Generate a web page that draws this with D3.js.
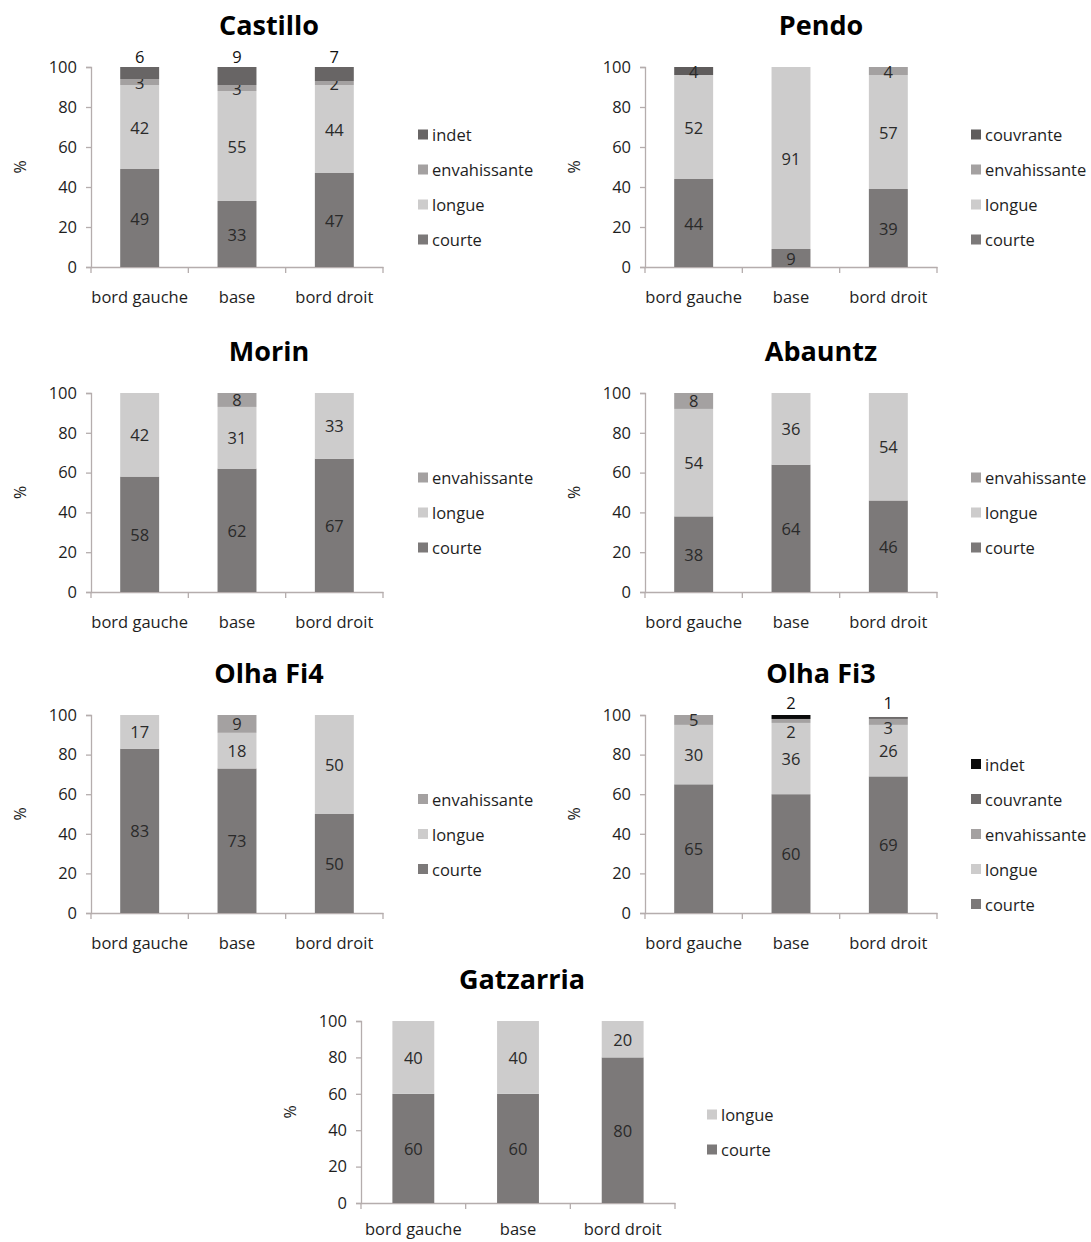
<!DOCTYPE html>
<html><head><meta charset="utf-8">
<script src="https://cdn.jsdelivr.net/npm/d3@7"></script>
<style>
html,body{margin:0;padding:0;background:#fff;}
svg text{font-family:"Open Sans",Lato,sans-serif;}
</style></head>
<body>
<svg id="chart" width="1091" height="1242"></svg>
<script>
// ---------- DATA ----------
const categories = ["bord gauche", "base", "bord droit"];
const yTicks = [0, 20, 40, 60, 80, 100];

const castilloCourte = [49, 33, 47];
const castilloLongue = [42, 55, 44];
const castilloEnvahissante = [3, 3, 2];
const castilloIndet = [6, 9, 7];

const pendoCourte = [44, 9, 39];
const pendoLongue = [52, 91, 57];
const pendoEnvahissante = [0, 0, 4];
const pendoCouvrante = [4, 0, 0];

const morinCourte = [58, 62, 67];
const morinLongue = [42, 31, 33];
const morinEnvahissante = [0, 8, 0];

const abauntzCourte = [38, 64, 46];
const abauntzLongue = [54, 36, 54];
const abauntzEnvahissante = [8, 0, 0];

const olhaFi4Courte = [83, 73, 50];
const olhaFi4Longue = [17, 18, 50];
const olhaFi4Envahissante = [0, 9, 0];

const olhaFi3Courte = [65, 60, 69];
const olhaFi3Longue = [30, 36, 26];
const olhaFi3Envahissante = [5, 2, 3];
const olhaFi3Couvrante = [0, 0, 1];
const olhaFi3Indet = [0, 2, 0];

const gatzarriaCourte = [60, 60, 80];
const gatzarriaLongue = [40, 40, 20];

// ---------- STYLE ----------
const colors = {
  courte: "#7c7979",
  longue: "#cdcccc",
  envahissante: "#a4a1a1",
  couvrante: "#5f5c5c",
  indet: "#686565"
};

const panels = [
  {title: "Castillo", left: 91, top: 67, w: 292, h: 200, titleX: 269, legendX: 418, xPad: 24,
   series: [["courte", castilloCourte], ["longue", castilloLongue], ["envahissante", castilloEnvahissante], ["indet", castilloIndet]],
   above: ["indet"], colorOverride: {}, nudge: {}},
  {title: "Pendo", left: 645, top: 67, w: 292, h: 200, titleX: 821, legendX: 971, xPad: 24,
   series: [["courte", pendoCourte], ["longue", pendoLongue], ["envahissante", pendoEnvahissante], ["couvrante", pendoCouvrante]],
   above: [], colorOverride: {}, nudge: {}},
  {title: "Morin", left: 91, top: 393, w: 292, h: 199, titleX: 269, legendX: 418, xPad: 24,
   series: [["courte", morinCourte], ["longue", morinLongue], ["envahissante", morinEnvahissante]],
   above: [], colorOverride: {}, nudge: {}},
  {title: "Abauntz", left: 645, top: 393, w: 292, h: 199, titleX: 821, legendX: 971, xPad: 24,
   series: [["courte", abauntzCourte], ["longue", abauntzLongue], ["envahissante", abauntzEnvahissante]],
   above: [], colorOverride: {}, nudge: {}},
  {title: "Olha Fi4", left: 91, top: 715, w: 292, h: 198, titleX: 269, legendX: 418, xPad: 24,
   series: [["courte", olhaFi4Courte], ["longue", olhaFi4Longue], ["envahissante", olhaFi4Envahissante]],
   above: [], colorOverride: {}, nudge: {}},
  {title: "Olha Fi3", left: 645, top: 715, w: 292, h: 198, titleX: 821, legendX: 971, xPad: 24,
   series: [["courte", olhaFi3Courte], ["longue", olhaFi3Longue], ["envahissante", olhaFi3Envahissante], ["couvrante", olhaFi3Couvrante], ["indet", olhaFi3Indet]],
   above: ["indet", "couvrante"], colorOverride: {indet: "#0a0a0a", couvrante: "#6e6b6b"},
   nudge: {envahissante: [0, 11, 6], couvrante: [0, 0, -2], indet: [0, -2, 0]}},
  {title: "Gatzarria", left: 361, top: 1021, w: 314, h: 182, titleX: 522, legendX: 707, xPad: 20,
   series: [["courte", gatzarriaCourte], ["longue", gatzarriaLongue]],
   above: [], colorOverride: {}, nudge: {}}
];

const svg = d3.select("#chart");
const axisColor = "#b5adad";
const textColor = "#1e1e1e";

panels.forEach(p => {
  const g = svg.append("g").attr("transform", `translate(${p.left},${p.top})`);
  const x = d3.scaleBand().domain(categories).range([0, p.w]).paddingInner(0.6).paddingOuter(0.3);
  const y = d3.scaleLinear().domain([0, 100]).range([p.h, 0]).clamp(true);
  const col = k => p.colorOverride[k] || colors[k];

  // title
  svg.append("text").attr("x", p.titleX).attr("y", p.top - 43)
    .attr("text-anchor", "middle").attr("dominant-baseline", "central")
    .style("font-size", "27px").style("font-weight", "700").style("fill", "#000")
    .text(p.title);

  // % label
  svg.append("text")
    .attr("transform", `translate(${p.left - 71},${p.top + p.h / 2}) rotate(-90)`)
    .attr("text-anchor", "middle").attr("dominant-baseline", "central")
    .style("font-size", "16px").style("fill", textColor).text("%");

  // y axis
  const ya = g.append("g").call(d3.axisLeft(y).tickValues(yTicks).tickSize(5).tickPadding(9).tickFormat(d3.format("d")));
  ya.select(".domain").attr("stroke", axisColor).attr("stroke-width", 1.3);
  ya.selectAll(".tick line").attr("stroke", axisColor).attr("stroke-width", 1.3);
  ya.selectAll(".tick text").style("font-size", "16.5px").style("fill", textColor);

  // x axis
  const xa = g.append("g").attr("transform", `translate(0,${p.h})`)
    .call(d3.axisBottom(x).tickSize(0).tickPadding(p.xPad).tickSizeOuter(0));
  xa.select(".domain").attr("stroke", axisColor).attr("stroke-width", 1.3);
  xa.selectAll(".tick text").style("font-size", "16.5px").style("fill", textColor);
  const bounds = d3.range(categories.length + 1).map(i => i * x.step());
  g.append("g").selectAll("line").data(bounds).join("line")
    .attr("x1", d => d).attr("x2", d => d).attr("y1", p.h).attr("y2", p.h + 6)
    .attr("stroke", axisColor).attr("stroke-width", 1.3);

  // stacked bars
  const keys = p.series.map(s => s[0]);
  const rows = categories.map((c, i) => {
    const r = {cat: c, idx: i};
    p.series.forEach(([k, arr]) => r[k] = arr[i]);
    return r;
  });
  const stacked = d3.stack().keys(keys)(rows);
  stacked.forEach(layer => {
    const k = layer.key;
    const nz = layer.filter(d => d[1] - d[0] > 0);
    g.append("g").selectAll("rect").data(nz).join("rect")
      .attr("x", d => x(d.data.cat)).attr("width", x.bandwidth())
      .attr("y", d => y(d[1])).attr("height", d => y(d[0]) - y(d[1]))
      .attr("fill", col(k));
    const isAbove = p.above.includes(k);
    const nudge = p.nudge[k] || [0, 0, 0];
    g.append("g").selectAll("text").data(nz).join("text")
      .attr("x", d => x(d.data.cat) + x.bandwidth() / 2)
      .attr("y", d => (isAbove ? y(100) - 11 : y((d[0] + Math.min(d[1], 100)) / 2)) + nudge[d.data.idx])
      .attr("text-anchor", "middle").attr("dominant-baseline", "central")
      .style("font-size", "16.5px").style("fill", isAbove ? "#111" : "#2a2a2a")
      .text(d => d.data[k]);
  });

  // legend (top to bottom: reverse stack order)
  const legendKeys = keys.slice().reverse();
  const step = 35;
  const midY = p.top + p.h / 2 + 20;
  const y0 = midY - (legendKeys.length - 1) * step / 2;
  const lg = svg.append("g");
  legendKeys.forEach((k, i) => {
    const ly = y0 + i * step;
    lg.append("rect").attr("x", p.legendX).attr("y", ly - 5).attr("width", 10).attr("height", 10).attr("fill", col(k));
    lg.append("text").attr("x", p.legendX + 14).attr("y", ly).attr("dominant-baseline", "central")
      .style("font-size", "16.5px").style("fill", textColor).text(k);
  });
});
</script>
</body></html>
